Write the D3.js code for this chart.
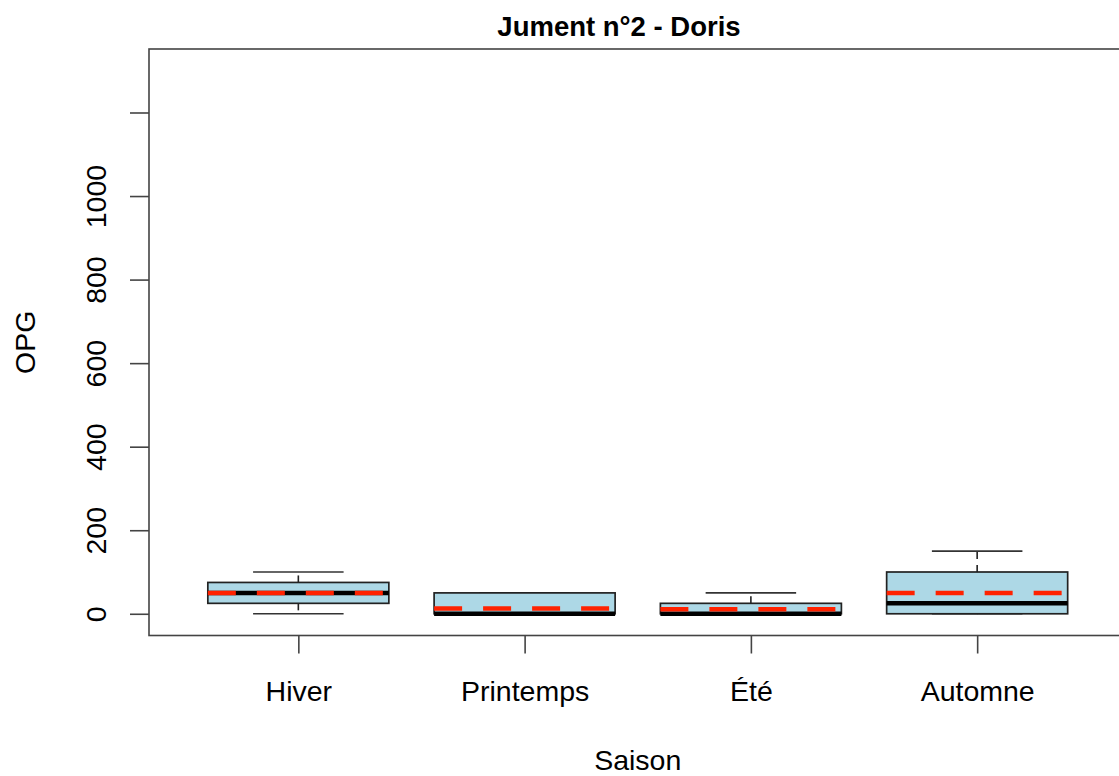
<!DOCTYPE html>
<html>
<head>
<meta charset="utf-8">
<script src="https://cdn.jsdelivr.net/npm/d3@7"></script>
<style>
  html, body { margin: 0; padding: 0; background: #fff; overflow: hidden; }
  svg { display: block; font-family: "Liberation Sans", Arial, Helvetica, sans-serif; }
</style>
</head>
<body>
<svg id="chart" width="1119" height="776"></svg>
<script>
// ---- data ----
const categories = ["Hiver", "Printemps", "Été", "Automne"];
const whiskerLow  = [0, 0, 0, 0];
const q1Values    = [25, 0, 0, 0];
const medians     = [50, 0, 0, 25];
const q3Values    = [75, 50, 25, 100];
const whiskerHigh = [100, 50, 50, 150];
const means       = [50, 12.5, 11, 50];
const yTicks      = [0, 200, 400, 600, 800, 1000, 1200];
const yTickLabels = ["0", "200", "400", "600", "800", "1000", ""];
const titleText = "Jument n°2 - Doris";
const xTitle = "Saison";
const yTitle = "OPG";

// ---- layout ----
const svg = d3.select("#chart");
const pLeft = 149, pRight = 1126.5, pTop = 49, pBottom = 635.5;
const fs = 28.5;

const x = d3.scaleLinear().domain([0.34, categories.length + 0.66]).range([pLeft, pRight]);
const y = d3.scaleLinear().domain([-52, 1352]).range([pBottom, pTop]);
const unit = x(1) - x(0);
const boxW = 0.8 * unit;
const capW = 0.4 * unit;

const data = categories.map((c, i) => ({
  c, i: i + 1,
  lo: whiskerLow[i], q1: q1Values[i], med: medians[i], q3: q3Values[i], hi: whiskerHigh[i], mean: means[i]
}));

const g = svg.append("g");

// boxes
data.forEach(d => {
  const cx = x(d.i);
  // whiskers (dashed)
  g.append("line").attr("x1", cx).attr("x2", cx).attr("y1", y(d.q3)).attr("y2", y(d.hi))
    .attr("stroke", "#222").attr("stroke-width", 1.6).attr("stroke-dasharray", "7,6");
  g.append("line").attr("x1", cx).attr("x2", cx).attr("y1", y(d.q1)).attr("y2", y(d.lo))
    .attr("stroke", "#222").attr("stroke-width", 1.6).attr("stroke-dasharray", "7,6");
  // caps
  [d.lo, d.hi].forEach(v => {
    g.append("line").attr("x1", cx - capW / 2).attr("x2", cx + capW / 2).attr("y1", y(v)).attr("y2", y(v))
      .attr("stroke", "#333").attr("stroke-width", 1.6);
  });
  // box
  g.append("rect").attr("x", cx - boxW / 2).attr("y", y(d.q3)).attr("width", boxW)
    .attr("height", y(d.q1) - y(d.q3))
    .attr("fill", "#ADD8E6").attr("stroke", "#222").attr("stroke-width", 1.7);
  // median
  g.append("line").attr("x1", cx - boxW / 2).attr("x2", cx + boxW / 2).attr("y1", y(d.med)).attr("y2", y(d.med))
    .attr("stroke", "#000").attr("stroke-width", 4.5);
  // mean (red dashed)
  g.append("line").attr("x1", cx - boxW / 2).attr("x2", cx + boxW / 2).attr("y1", y(d.mean)).attr("y2", y(d.mean))
    .attr("stroke", "#ff2200").attr("stroke-width", 4.5).attr("stroke-dasharray", "28,21");
});

// frame
svg.append("rect").attr("x", pLeft).attr("y", pTop).attr("width", pRight - pLeft).attr("height", pBottom - pTop)
  .attr("fill", "none").attr("stroke", "#444").attr("stroke-width", 1.6);

// y axis
const yAxis = d3.axisLeft(y).tickValues(yTicks).tickSize(19).tickPadding(0)
  .tickFormat((v, i) => yTickLabels[i]);
const ya = svg.append("g").attr("transform", `translate(${pLeft},0)`).call(yAxis);
ya.select(".domain").remove();
ya.selectAll(".tick line").attr("stroke", "#444").attr("stroke-width", 1.6);
ya.selectAll(".tick text")
  .attr("x", 0).attr("dy", null).attr("y", 0)
  .attr("transform", "translate(-43,0) rotate(-90)")
  .attr("text-anchor", "middle")
  .attr("font-size", fs).attr("font-family", "Liberation Sans, Arial, sans-serif")
  .attr("fill", "#000");

// x axis
const xAxis = d3.axisBottom(x).tickValues(data.map(d => d.i)).tickSize(18).tickPadding(0)
  .tickFormat((v, i) => categories[i]);
const xa = svg.append("g").attr("transform", `translate(0,${pBottom})`).call(xAxis);
xa.select(".domain").remove();
xa.selectAll(".tick line").attr("stroke", "#444").attr("stroke-width", 1.6);
xa.selectAll(".tick text").attr("y", 65).attr("dy", null)
  .attr("font-size", fs).attr("font-family", "Liberation Sans, Arial, sans-serif").attr("fill", "#000");

// titles
svg.append("text").attr("x", 619).attr("y", 36).attr("text-anchor", "middle")
  .attr("font-size", 27.5).attr("font-weight", "bold").text(titleText);
svg.append("text").attr("x", (pLeft + pRight) / 2).attr("y", 770).attr("text-anchor", "middle")
  .attr("font-size", fs).text(xTitle);
svg.append("text").attr("transform", `translate(35,${(pTop + pBottom) / 2}) rotate(-90)`)
  .attr("text-anchor", "middle").attr("font-size", fs).text(yTitle);
</script>
</body>
</html>
